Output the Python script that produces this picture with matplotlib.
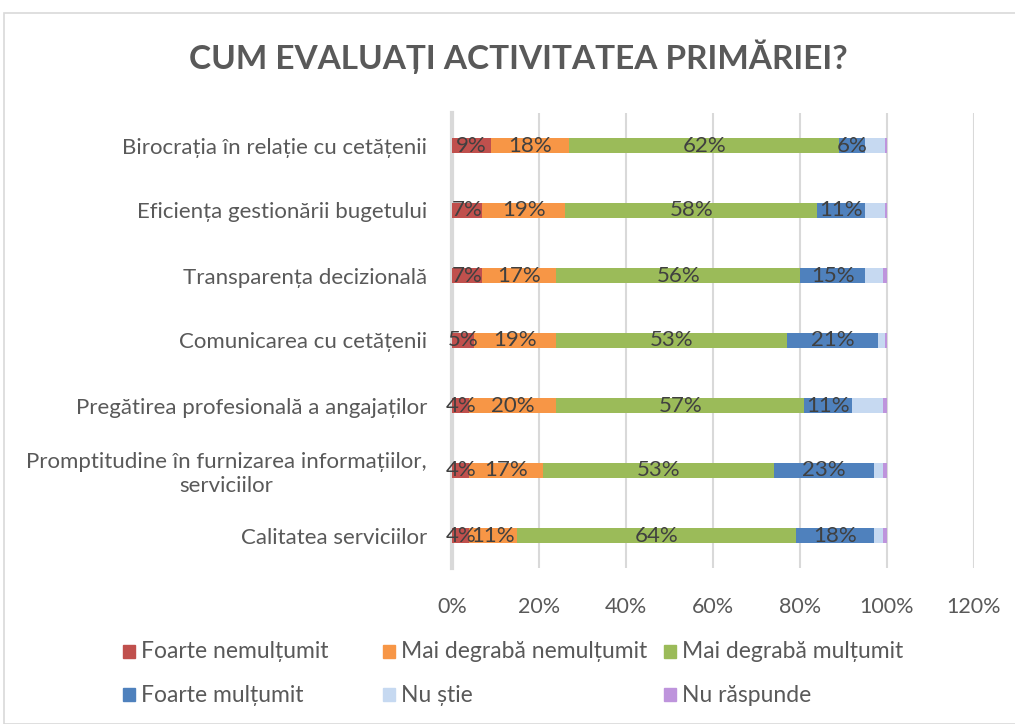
import matplotlib
matplotlib.use("Agg")
import matplotlib.pyplot as plt
from matplotlib.patches import Rectangle
import numpy as np

plt.rcParams['font.family'] = ['Lato', 'DejaVu Sans']

title = "CUM EVALUAȚI ACTIVITATEA PRIMĂRIEI?"
categories = [
    "Birocrația în relație cu cetățenii",
    "Eficiența gestionării bugetului",
    "Transparența decizională",
    "Comunicarea cu cetățenii",
    "Pregătirea profesională a angajaților",
    "Promptitudine în furnizarea informațiilor,\nserviciilor",
    "Calitatea serviciilor",
]
series_names = ["Foarte nemulțumit", "Mai degrabă nemulțumit", "Mai degrabă mulțumit",
                "Foarte mulțumit", "Nu știe", "Nu răspunde"]
foarte_nemultumit = [9, 7, 7, 5, 4, 4, 4]
mai_degraba_nemultumit = [18, 19, 17, 19, 20, 17, 11]
mai_degraba_multumit = [62, 58, 56, 53, 57, 53, 64]
foarte_multumit = [6, 11, 15, 21, 11, 23, 18]
nu_stie = [4.5, 4.5, 4, 1.5, 7, 2, 2]
nu_raspunde = [0.5, 0.5, 1, 0.5, 1, 1, 1]
labelled = [True, True, True, True, False, False]
xticks = [0, 20, 40, 60, 80, 100, 120]

colors = ["#C0504D", "#F79646", "#9BBB59", "#4F81BD", "#C6D9F1", "#BE94DC"]

W, H = 1015, 724
fig = plt.figure(figsize=(W / 100, H / 100), dpi=100)

# chart border
fig.add_artist(Rectangle((4 / W, 0), 1.2, 1 - 13 / H, transform=fig.transFigure,
                         fill=False, edgecolor="#D9D9D9", linewidth=1.2))

ax = fig.add_axes([452 / W, 1 - 568 / H, (974 - 452) / W, (568 - 113) / H])

data = [foarte_nemultumit, mai_degraba_nemultumit, mai_degraba_multumit,
        foarte_multumit, nu_stie, nu_raspunde]
y = np.arange(len(categories))
left = np.zeros(len(categories))
for vals, name, col, lab in zip(data, series_names, colors, labelled):
    vals = np.array(vals, dtype=float)
    ax.barh(y, vals, left=left, height=0.23, color=col, label=name, zorder=3)
    if lab:
        for yi, l, v in zip(y, left, vals):
            ax.text(l + v / 2, yi, f"{v:.0f}%", ha="center", va="center",
                    fontsize=16, color="#404040", zorder=4)
    left += vals

ax.set_ylim(len(categories) - 0.5, -0.5)
ax.set_xlim(0, 120)
ax.set_xticks(xticks)
ax.set_xticklabels([f"{t}%" for t in xticks])
ax.set_yticks(y)
ax.set_yticklabels(categories, multialignment="center")
ax.tick_params(axis="both", length=0, labelcolor="#595959")
ax.tick_params(axis="x", pad=21, labelsize=15.5)
ax.tick_params(axis="y", pad=18, labelsize=16)
ax.grid(axis="x", color="#D9D9D9", linewidth=1.5, zorder=0)
for s in ["top", "right", "bottom"]:
    ax.spines[s].set_visible(False)
ax.spines["left"].set_color("#D9D9D9")
ax.spines["left"].set_linewidth(3)
ax.spines["left"].set_zorder(2)

fig.text(518 / W, 1 - 57 / H, title, ha="center", va="center", fontsize=24,
         fontweight="bold", color="#595959")

# legend (manual, 3 columns x 2 rows)
leg_x = [123, 383, 664]
leg_y = [652, 695]
for i, (name, col) in enumerate(zip(series_names, colors)):
    r, c = divmod(i, 3)
    x0, y0 = leg_x[c], leg_y[r]
    fig.add_artist(Rectangle((x0 / W, 1 - (y0 + 6) / H), 12 / W, 13 / H,
                             transform=fig.transFigure, color=col))
    fig.text((x0 + 18) / W, 1 - y0 / H, name, ha="left", va="center",
             fontsize=16.5, color="#595959")

fig.savefig("out.png", dpi=100)
